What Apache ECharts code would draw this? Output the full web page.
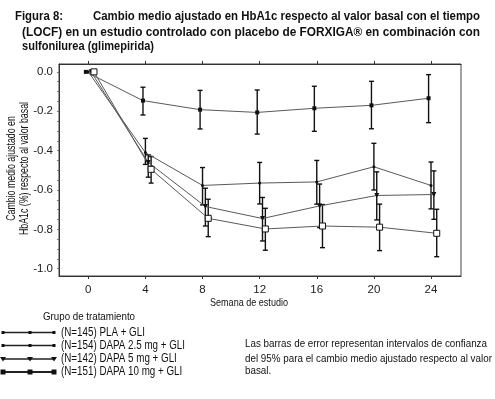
<!DOCTYPE html>
<html><head><meta charset="utf-8">
<script src="https://cdn.jsdelivr.net/npm/echarts@6/dist/echarts.min.js"></script>
<style>html,body{margin:0;padding:0;background:#fff}#c{width:495px;height:399px}</style>
</head><body><div id="c"></div>
<script>
const weeks = [0, 4, 8, 12, 16, 20, 24];
const seriesNames = ['(N=145) PLA + GLI', '(N=154) DAPA 2.5 mg + GLI', '(N=142) DAPA 5 mg + GLI', '(N=151) DAPA 10 mg + GLI'];
const pla    = [0, -0.146, -0.192, -0.206, -0.185, -0.170, -0.134];
const plaLo  = [0, -0.219, -0.290, -0.316, -0.302, -0.289, -0.258];
const plaHi  = [0, -0.078, -0.094, -0.092, -0.073, -0.048, -0.014];
const d25    = [0, -0.410, -0.577, -0.565, -0.559, -0.482, -0.577];
const d25Lo  = [0, -0.470, -0.676, -0.671, -0.672, -0.600, -0.696];
const d25Hi  = [0, -0.338, -0.486, -0.460, -0.450, -0.363, -0.458];
const d5     = [0, -0.460, -0.684, -0.745, -0.681, -0.628, -0.623];
const d5Lo   = [0, -0.535, -0.783, -0.859, -0.791, -0.752, -0.749];
const d5Hi   = [0, -0.421, -0.591, -0.638, -0.570, -0.508, -0.503];
const d10    = [0, -0.495, -0.744, -0.798, -0.783, -0.789, -0.820];
const d10Lo  = [0, -0.565, -0.837, -0.906, -0.893, -0.908, -0.939];
const d10Hi  = [0, -0.430, -0.647, -0.693, -0.674, -0.672, -0.698];
const yTicks = [0, -0.2, -0.4, -0.6, -0.8, -1.0];
const xTicks = [0, 4, 8, 12, 16, 20, 24];
const titleLines = ['Figura 8:', 'Cambio medio ajustado en HbA1c respecto al valor basal con el tiempo',
  '(LOCF) en un estudio controlado con placebo de FORXIGA\u00ae en combinación con', 'sulfonilurea (glimepirida)'];
const yName = ['Cambio medio ajustado en', 'HbA1c (%) respecto al valor basal'];
const xName = 'Semana de estudio';
const legendTitle = 'Grupo de tratamiento';
const noteLines = ['Las barras de error representan intervalos de confianza',
  'del 95% para el cambio medio ajustado respecto al valor', 'basal.'];

const dodge = [-0.17, 0.0, 0.2, 0.4];
const means = [pla, d25, d5, d10], los = [plaLo, d25Lo, d5Lo, d10Lo], his = [plaHi, d25Hi, d5Hi, d10Hi];
const symbols = ['rect', 'circle', 'triangle', 'rect'];
const symSizes = [4, 3, 5, 6];
const symRot = [0, 0, 180, 0];
const FONT = '"Liberation Sans", Arial, sans-serif';

const mctx = document.createElement('canvas').getContext('2d');
function measure(text, font) { mctx.font = font; return mctx.measureText(text).width; }
function scaledText(text, font, x, cy, scale, rot) {
  const el = { type: 'text', x: x, y: cy, scaleX: scale, originX: 0, originY: 0,
    style: { text: text, font: font, fill: '#111', textAlign: rot ? 'center' : 'left', textVerticalAlign: 'middle' } };
  if (rot) el.rotation = rot;
  return el;
}
function fitText(text, font, x, cy, targetW, rot) {
  return scaledText(text, font, x, cy, targetW / measure(text, font), rot);
}

const minor = [];
for (let v = -1.0; v <= 0.0001; v += 0.05) minor.push(Math.round(v * 100) / 100);

const series = [];
means.forEach((m, i) => {
  series.push({
    type: 'line', name: seriesNames[i],
    data: weeks.map((w, k) => [w + dodge[i], m[k]]),
    lineStyle: { color: '#5a5a5a', width: 1 },
    itemStyle: i === 3 ? { color: '#fff', borderColor: '#111', borderWidth: 1 } : { color: '#111' },
    symbol: symbols[i], symbolSize: symSizes[i], symbolRotate: symRot[i],
    showSymbol: true, animation: false, z: 3
  });
  series.push({
    type: 'custom', name: seriesNames[i] + ' CI',
    data: weeks.map((w, k) => [w + dodge[i], los[i][k], his[i][k]]).filter((d, k) => weeks[k] !== 0),
    renderItem: function (params, api) {
      const x = api.value(0);
      const lo = api.coord([x, api.value(1)]);
      const hi = api.coord([x, api.value(2)]);
      const cw = 2.5;
      const st = { stroke: '#111', lineWidth: 1.4 };
      return { type: 'group', children: [
        { type: 'line', shape: { x1: lo[0], y1: lo[1], x2: hi[0], y2: hi[1] }, style: st },
        { type: 'line', shape: { x1: lo[0] - cw, y1: lo[1], x2: lo[0] + cw, y2: lo[1] }, style: st },
        { type: 'line', shape: { x1: hi[0] - cw, y1: hi[1], x2: hi[0] + cw, y2: hi[1] }, style: st }
      ]};
    },
    animation: false, z: 2
  });
});

const TB = 'bold 13px ' + FONT;
const NF = '11.5px ' + FONT;
const LF = '12.5px ' + FONT;
const YF = '12.5px ' + FONT;
const noteScale = 242 / measure(noteLines[0], NF);
const legScale = 124 / measure(seriesNames[1], LF);
const yScale = 133 / measure(yName[1], YF);
const graphic = [
  fitText(titleLines[0], TB, 15, 16, 48),
  fitText(titleLines[1], TB, 93, 16, 387),
  fitText(titleLines[2], TB, 22, 32, 458),
  fitText(titleLines[3], TB, 22, 46, 132),
  fitText(legendTitle, '11.5px ' + FONT, 43, 317, 92),
  scaledText(noteLines[0], NF, 245, 343.5, noteScale),
  scaledText(noteLines[1], NF, 245, 358.5, noteScale),
  scaledText(noteLines[2], NF, 245, 371, noteScale),
  fitText(xName, '10.5px ' + FONT, 210, 303, 78),
  scaledText(yName[0], YF, 12, 168.5, yScale, Math.PI / 2),
  scaledText(yName[1], YF, 25, 168.5, yScale, Math.PI / 2)
];
const legendY = [332.5, 345.5, 359, 372];
seriesNames.forEach((n, i) => {
  const y = legendY[i];
  graphic.push({ type: 'line', shape: { x1: 3, y1: y, x2: 54, y2: y }, style: { stroke: '#222', lineWidth: i === 3 ? 2 : 1.4 } });
  [3, 30, 54].forEach(x => {
    if (i === 2) graphic.push({ type: 'polygon', shape: { points: [[x - 3, y - 2], [x + 3, y - 2], [x, y + 2.5]] }, style: { fill: '#111' } });
    else graphic.push({ type: 'rect', shape: { x: x - (i === 3 ? 2.5 : 1.5), y: y - (i === 3 ? 2.5 : 1.5), width: i === 3 ? 5 : 3, height: i === 3 ? 5 : 3 }, style: { fill: '#111' } });
  });
  graphic.push(scaledText(n, LF, 61, y, legScale));
});

const chart = echarts.init(document.getElementById('c'), null, { renderer: 'canvas' });
chart.setOption({
  animation: false,
  backgroundColor: '#fff',
  grid: { left: 59, top: 64, right: 34, bottom: 123, show: true, borderColor: '#444', borderWidth: 1 },
  xAxis: [{
    type: 'value', min: -2.05, max: 26.1,
    axisLine: { show: true, onZero: false, lineStyle: { color: '#333' } },
    axisTick: { show: true, inside: false, length: 3, customValues: xTicks, lineStyle: { color: '#333' } },
    axisLabel: { customValues: xTicks, fontFamily: FONT, fontSize: 11.5, color: '#222', margin: 8 },
    splitLine: { show: false }
  }, {
    type: 'value', position: 'top', min: -2.05, max: 26.1,
    axisLine: { show: true, onZero: false, lineStyle: { color: '#333' } },
    axisTick: { show: true, inside: false, length: 3, customValues: xTicks, lineStyle: { color: '#333' } },
    axisLabel: { show: false }, splitLine: { show: false }
  }],
  yAxis: {
    type: 'value', min: -1.037, max: 0.04,
    axisLine: { show: true, onZero: false, lineStyle: { color: '#333' } },
    axisTick: { show: true, inside: false, length: 2, customValues: minor, lineStyle: { color: '#777' } },
    axisLabel: { customValues: yTicks, formatter: v => v.toFixed(1), fontFamily: FONT, fontSize: 11.5, color: '#222', margin: 6 },
    splitLine: { show: false }
  },
  series: series,
  graphic: graphic
});
</script></body></html>
